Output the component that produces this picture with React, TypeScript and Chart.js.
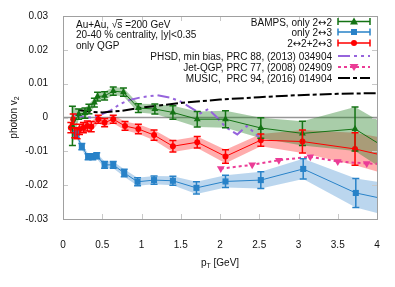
import React, { useEffect, useRef } from "react";
import { Chart, registerables } from "chart.js";
Chart.register(...registerables);

const FONT = '"Liberation Sans", "DejaVu Sans", sans-serif';
const ARROW_FONT = '"DejaVu Sans", sans-serif';

const xTickValues = [0, 0.5, 1, 1.5, 2, 2.5, 3, 3.5, 4];
const xTickLabels = ["0", "0.5", "1", "1.5", "2", "2.5", "3", "3.5", "4"];
const yTickValues = [-0.03, -0.02, -0.01, 0, 0.01, 0.02, 0.03];
const yTickLabels = ["-0.03", "-0.02", "-0.01", "0", "0.01", "0.02", "0.03"];

// BAMPS, only 2<->2 (green)
const greenX = [0.12, 0.2, 0.28, 0.33, 0.4, 0.44, 0.53, 0.64, 0.77, 0.96, 1.17, 1.4, 1.71, 2.07, 2.52, 3.05, 3.72, 4.3];
const greenY = [-0.0025, 0.001, 0.0013, 0.0025, 0.0044, 0.0062, 0.0064, 0.0078, 0.0075, 0.0028, 0.0025, 0.0015, -0.0005, -0.0005, -0.0031, -0.0047, -0.0034, -0.0117];
const greenErr = [0.0058, 0.0015, 0.0015, 0.0014, 0.0013, 0.0013, 0.0012, 0.0012, 0.0012, 0.0013, 0.0015, 0.002, 0.0023, 0.0025, 0.003, 0.0036, 0.0065, 0.007];

// only 2<->3 (blue)
const blueX = [0.17, 0.24, 0.32, 0.38, 0.43, 0.53, 0.64, 0.78, 0.95, 1.16, 1.4, 1.7, 2.07, 2.52, 3.06, 3.73, 4.3];
const blueY = [-0.005, -0.0086, -0.0116, -0.0116, -0.0113, -0.014, -0.014, -0.0164, -0.019, -0.0185, -0.0187, -0.0208, -0.0189, -0.0185, -0.0152, -0.0223, -0.0251];
const blueErr = [0.0009, 0.0009, 0.0009, 0.0009, 0.0009, 0.001, 0.001, 0.0011, 0.0012, 0.0012, 0.0013, 0.0018, 0.0018, 0.0025, 0.003, 0.0043, 0.005];

// 2<->2 + 2<->3 (red)
const redX = [0.1, 0.13, 0.15, 0.18, 0.21, 0.26, 0.31, 0.36, 0.45, 0.53, 0.64, 0.79, 0.96, 1.16, 1.4, 1.71, 2.07, 2.52, 3.05, 3.72, 4.3];
const redY = [-0.003, -0.0005, -0.0045, -0.0048, -0.0035, -0.003, -0.0025, -0.0027, -0.0005, -0.0015, -0.0005, -0.0025, -0.0034, -0.0052, -0.0085, -0.0073, -0.0115, -0.0067, -0.0071, -0.0093, -0.0124];
const redErr = [0.0015, 0.0015, 0.0015, 0.0015, 0.0015, 0.0015, 0.0015, 0.0015, 0.0012, 0.0012, 0.0012, 0.0013, 0.0014, 0.0015, 0.0017, 0.0017, 0.002, 0.0018, 0.0034, 0.0048, 0.0055];

// PHSD (purple dash-dot)
const phsdX = [0.12, 0.25, 0.35, 0.45, 0.6, 0.73, 0.85, 1.0, 1.2, 1.36, 1.5, 1.62, 1.75, 1.85, 1.95, 2.07, 2.22, 2.34, 2.5];
const phsdY = [0.001, 0.0003, 0.0, 0.0005, 0.002, 0.004, 0.0052, 0.006, 0.0066, 0.0059, 0.0047, 0.003, 0.0012, 0.0025, 0.0003, -0.0028, -0.005, -0.0025, -0.0058];

// Jet-QGP (pink dotted, down triangles)
const jetX = [2.01, 2.41, 2.75, 3.15, 3.5, 3.87, 4.0];
const jetY = [-0.0151, -0.014, -0.0126, -0.0116, -0.013, -0.0136, -0.0137];
const jetMarker = [true, true, true, true, true, true, false];

// MUSIC (black dash-dot)
const musicX = [0.2, 0.35, 0.5, 0.75, 1.0, 1.25, 1.5, 1.75, 2.0, 2.5, 3.0, 3.5, 4.0];
const musicY = [0.0022, 0.0017, 0.0015, 0.002, 0.0029, 0.0036, 0.0043, 0.0048, 0.0053, 0.006, 0.0066, 0.007, 0.0072];

const legendLabels = [
  "BAMPS, only 2\u21942",
  "only 2\u21943",
  "2\u21942+2\u21943",
  "PHSD, min bias, PRC 88, (2013) 034904",
  "Jet-QGP, PRC 77, (2008) 024909",
  "MUSIC,  PRC 94, (2016) 014904",
];

const annotationLines = ["Au+Au, \u221as =200 GeV", "20-40 % centrality, |y|<0.35", "only QGP"];

const GREEN = "rgb(20,115,20)";
const BLUE = "rgb(40,130,200)";
const RED = "rgb(255,0,0)";
const PURPLE = "rgb(150,100,220)";
const PINK = "rgb(235,60,150)";
const BLACK = "rgb(0,0,0)";

const PHSD_DASH = [12, 4, 3, 4, 3, 4];
const JET_DASH = [3, 3];
const MUSIC_DASH = [12, 3, 4, 3];

const pts = (xs: number[], ys: number[]) => xs.map((x, i) => ({ x, y: ys[i] }));

const errorSeries = [
  { xs: greenX, ys: greenY, es: greenErr, color: GREEN },
  { xs: blueX, ys: blueY, es: blueErr, color: BLUE },
  { xs: redX, ys: redY, es: redErr, color: RED },
];

// draws text right-aligned at x, with the arrow glyph in a font that has a wide arrow
function fillRichRight(ctx: CanvasRenderingContext2D, text: string, xRight: number, y: number) {
  const parts = text.split("\u2194");
  const segs: { t: string; f: string }[] = [];
  parts.forEach((p, i) => {
    if (p) segs.push({ t: p, f: "10px " + FONT });
    if (i < parts.length - 1) segs.push({ t: "\u2194", f: "10px " + ARROW_FONT });
  });
  const widths = segs.map((s) => {
    ctx.font = s.f;
    return ctx.measureText(s.t).width;
  });
  let x = xRight - widths.reduce((a, b) => a + b, 0);
  ctx.textAlign = "left";
  segs.forEach((s, i) => {
    ctx.font = s.f;
    ctx.fillText(s.t, x, y);
    x += widths[i];
  });
  ctx.font = "10px " + FONT;
}

function drawMarker(ctx: CanvasRenderingContext2D, kind: string, x: number, y: number, color: string) {
  ctx.save();
  ctx.fillStyle = color;
  ctx.beginPath();
  if (kind === "tri") {
    ctx.moveTo(x, y - 4);
    ctx.lineTo(x + 4, y + 3);
    ctx.lineTo(x - 4, y + 3);
  } else if (kind === "rect") {
    ctx.rect(x - 3, y - 3, 6, 6);
  } else if (kind === "circle") {
    ctx.arc(x, y, 3, 0, Math.PI * 2);
  } else if (kind === "dtri") {
    ctx.moveTo(x, y + 4);
    ctx.lineTo(x + 4.5, y - 3);
    ctx.lineTo(x - 4.5, y - 3);
  }
  ctx.closePath();
  ctx.fill();
  ctx.restore();
}

const decorPlugin = {
  id: "decor",
  beforeDatasetsDraw(chart: any) {
    const { ctx, chartArea: a, scales } = chart;
    const y0 = scales.y.getPixelForValue(0);
    ctx.save();
    ctx.strokeStyle = "rgb(150,150,150)";
    ctx.lineWidth = 1.5;
    ctx.beginPath();
    ctx.moveTo(a.left, y0);
    ctx.lineTo(a.right, y0);
    ctx.stroke();
    ctx.restore();
  },
  afterDatasetsDraw(chart: any) {
    const { ctx, chartArea: a, scales } = chart;
    ctx.save();
    ctx.beginPath();
    ctx.rect(a.left, a.top, a.right - a.left, a.bottom - a.top);
    ctx.clip();
    ctx.lineWidth = 1.5;
    for (const s of errorSeries) {
      ctx.strokeStyle = s.color;
      s.xs.forEach((xv, i) => {
        if (xv > 4) return;
        const px = scales.x.getPixelForValue(xv);
        const t = scales.y.getPixelForValue(s.ys[i] + s.es[i]);
        const b = scales.y.getPixelForValue(s.ys[i] - s.es[i]);
        ctx.beginPath();
        ctx.moveTo(px, t);
        ctx.lineTo(px, b);
        ctx.moveTo(px - 3.5, t);
        ctx.lineTo(px + 3.5, t);
        ctx.moveTo(px - 3.5, b);
        ctx.lineTo(px + 3.5, b);
        ctx.stroke();
      });
    }
    ctx.restore();
  },
  afterDraw(chart: any) {
    const { ctx, chartArea: a, scales } = chart;
    ctx.save();
    // inward ticks
    ctx.strokeStyle = "rgb(200,200,200)";
    ctx.lineWidth = 1;
    ctx.beginPath();
    xTickValues.forEach((v) => {
      const px = Math.round(scales.x.getPixelForValue(v)) + 0.5;
      ctx.moveTo(px, a.bottom);
      ctx.lineTo(px, a.bottom - 5);
      ctx.moveTo(px, a.top);
      ctx.lineTo(px, a.top + 5);
    });
    yTickValues.forEach((v) => {
      const py = Math.round(scales.y.getPixelForValue(v)) + 0.5;
      ctx.moveTo(a.left, py);
      ctx.lineTo(a.left + 5, py);
      ctx.moveTo(a.right, py);
      ctx.lineTo(a.right - 5, py);
    });
    ctx.stroke();
    // frame
    ctx.strokeStyle = "rgb(160,160,160)";
    ctx.lineWidth = 1;
    ctx.strokeRect(Math.round(a.left) + 0.5, Math.round(a.top) + 0.5, Math.round(a.right - a.left), Math.round(a.bottom - a.top));

    ctx.fillStyle = "#111";
    ctx.font = "10px " + FONT;
    ctx.textBaseline = "middle";
    // annotation
    ctx.textAlign = "left";
    const annY = [25, 35.5, 46];
    annotationLines.forEach((t, i) => {
      ctx.fillText(t, 76, annY[i]);
    });
    // overline over s
    const pre = ctx.measureText("Au+Au, \u221a").width;
    const sw = ctx.measureText("s").width;
    ctx.strokeStyle = "#111";
    ctx.lineWidth = 0.8;
    ctx.beginPath();
    ctx.moveTo(76 + pre - 1, 19.5);
    ctx.lineTo(76 + pre + sw, 19.5);
    ctx.stroke();

    // legend
    const rows = [22.5, 33, 44, 57, 68, 79];
    const tx = 332;
    const sx0 = 338;
    const sx1 = 370;
    const sm = (sx0 + sx1) / 2;
    legendLabels.forEach((t, i) => fillRichRight(ctx, t, tx, rows[i] + 0.5));
    const bamps = [
      { c: GREEN, m: "tri" },
      { c: BLUE, m: "rect" },
      { c: RED, m: "circle" },
    ];
    bamps.forEach((b, i) => {
      const y = rows[i] - 1;
      ctx.strokeStyle = b.c;
      ctx.lineWidth = 1.5;
      ctx.beginPath();
      ctx.moveTo(sx0, y);
      ctx.lineTo(sx1, y);
      ctx.moveTo(sx0, y - 3.5);
      ctx.lineTo(sx0, y + 3.5);
      ctx.moveTo(sx1, y - 3.5);
      ctx.lineTo(sx1, y + 3.5);
      ctx.stroke();
      drawMarker(ctx, b.m, sm, y, b.c);
    });
    const lines = [
      { c: PURPLE, d: PHSD_DASH },
      { c: PINK, d: JET_DASH },
      { c: BLACK, d: MUSIC_DASH },
    ];
    lines.forEach((l, i) => {
      const y = rows[i + 3] - 1;
      ctx.strokeStyle = l.c;
      ctx.lineWidth = 2;
      ctx.setLineDash(l.d);
      ctx.beginPath();
      ctx.moveTo(sx0, y);
      ctx.lineTo(sx1, y);
      ctx.stroke();
      ctx.setLineDash([]);
    });
    drawMarker(ctx, "dtri", sm, rows[4] - 1, PINK);

    // axis titles
    ctx.fillStyle = "#111";
    ctx.textAlign = "left";
    ctx.textBaseline = "alphabetic";
    const cx = (a.left + a.right) / 2;
    ctx.font = "10px " + FONT;
    const pW = ctx.measureText("p").width;
    ctx.font = "7px " + FONT;
    const TW = ctx.measureText("T").width;
    ctx.font = "10px " + FONT;
    const restW = ctx.measureText(" [GeV]").width;
    let x = cx - (pW + TW + restW) / 2;
    const by = 266;
    ctx.fillText("p", x, by);
    ctx.font = "7px " + FONT;
    ctx.fillText("T", x + pW, by + 2);
    ctx.font = "10px " + FONT;
    ctx.fillText(" [GeV]", x + pW + TW, by);

    // y title
    ctx.translate(17, (a.top + a.bottom) / 2);
    ctx.rotate(-Math.PI / 2);
    const phW = ctx.measureText("photon v").width;
    ctx.font = "7px " + FONT;
    const twoW = ctx.measureText("2").width;
    ctx.font = "10px " + FONT;
    const x0 = -(phW + twoW) / 2;
    ctx.fillText("photon v", x0, 0);
    ctx.font = "7px " + FONT;
    ctx.fillText("2", x0 + phW, 2);
    ctx.restore();
  },
};

function bandSets(xs: number[], ys: number[], es: number[], fillColor: string, order: number) {
  return [
    {
      data: pts(xs, ys.map((v, i) => v + es[i])),
      borderWidth: 0,
      pointRadius: 0,
      fill: false,
      order,
    },
    {
      data: pts(xs, ys.map((v, i) => v - es[i])),
      borderWidth: 0,
      pointRadius: 0,
      fill: "-1",
      backgroundColor: fillColor,
      order,
    },
  ];
}

export default function App() {
  const ref = useRef<HTMLCanvasElement | null>(null);
  useEffect(() => {
    if (!ref.current) return;
    const markerR = (r: number) => (c: any) => (c.raw && c.raw.x > 4 ? 0 : r);
    const chart = new Chart(ref.current, {
      type: "line",
      data: {
        datasets: [
          ...bandSets(blueX, blueY, blueErr, "rgba(30,120,200,0.3)", 30),
          ...bandSets(redX, redY, redErr, "rgba(255,0,0,0.32)", 20),
          ...bandSets(greenX, greenY, greenErr, "rgba(40,130,40,0.4)", 10),
          {
            data: pts(musicX, musicY),
            borderColor: BLACK,
            borderWidth: 2,
            borderDash: MUSIC_DASH,
            pointRadius: 0,
            fill: false,
            order: 5,
          },
          {
            data: pts(phsdX, phsdY),
            borderColor: PURPLE,
            borderWidth: 2,
            borderDash: PHSD_DASH,
            pointRadius: 0,
            fill: false,
            order: 5,
          },
          {
            data: pts(jetX, jetY),
            borderColor: PINK,
            borderWidth: 2,
            borderDash: JET_DASH,
            pointStyle: "triangle",
            pointRotation: 180,
            pointRadius: jetX.map((_, i) => (jetMarker[i] ? 4.5 : 0)),
            pointBackgroundColor: PINK,
            pointBorderWidth: 0,
            fill: false,
            order: 5,
          },
          {
            data: pts(greenX, greenY),
            borderColor: GREEN,
            borderWidth: 1,
            pointStyle: "triangle",
            pointRadius: markerR(4),
            pointBackgroundColor: GREEN,
            pointBorderWidth: 0,
            fill: false,
            order: 1,
          },
          {
            data: pts(blueX, blueY),
            borderColor: BLUE,
            borderWidth: 1,
            pointStyle: "rect",
            pointRadius: markerR(4.3),
            pointBackgroundColor: BLUE,
            pointBorderWidth: 0,
            fill: false,
            order: 1,
          },
          {
            data: pts(redX, redY),
            borderColor: RED,
            borderWidth: 1,
            pointStyle: "circle",
            pointRadius: markerR(3),
            pointBackgroundColor: RED,
            pointBorderWidth: 0,
            fill: false,
            order: 1,
          },
        ] as any,
      },
      options: {
        responsive: false,
        animation: false,
        devicePixelRatio: 1,
        layout: { padding: { top: 16, right: 18, left: 0, bottom: 0 } },
        plugins: { legend: { display: false }, tooltip: { enabled: false } },
        elements: { line: { tension: 0 } },
        scales: {
          x: {
            type: "linear",
            min: 0,
            max: 4,
            grid: { display: false },
            border: { display: false },
            afterBuildTicks: (s: any) => {
              s.ticks = xTickValues.map((v) => ({ value: v }));
            },
            afterFit: (s: any) => {
              s.height = 68;
            },
            ticks: {
              autoSkip: false,
              maxRotation: 0,
              padding: 12,
              color: "#111",
              font: { family: FONT, size: 10 },
              callback: (_v: any, i: number) => xTickLabels[i],
            },
          },
          y: {
            type: "linear",
            min: -0.03,
            max: 0.03,
            grid: { display: false },
            border: { display: false },
            afterBuildTicks: (s: any) => {
              s.ticks = yTickValues.map((v) => ({ value: v }));
            },
            afterFit: (s: any) => {
              s.width = 63;
            },
            ticks: {
              autoSkip: false,
              padding: 7,
              color: "#111",
              font: { family: FONT, size: 10 },
              callback: (_v: any, i: number) => yTickLabels[i],
            },
          },
        },
      } as any,
      plugins: [decorPlugin],
    });
    return () => chart.destroy();
  }, []);
  return (
    <div style={{ position: "absolute", left: 0, top: 0, width: 395, height: 287, background: "#fff" }}>
      <canvas ref={ref} width={395} height={287} style={{ width: 395, height: 287, display: "block" }} />
    </div>
  );
}
